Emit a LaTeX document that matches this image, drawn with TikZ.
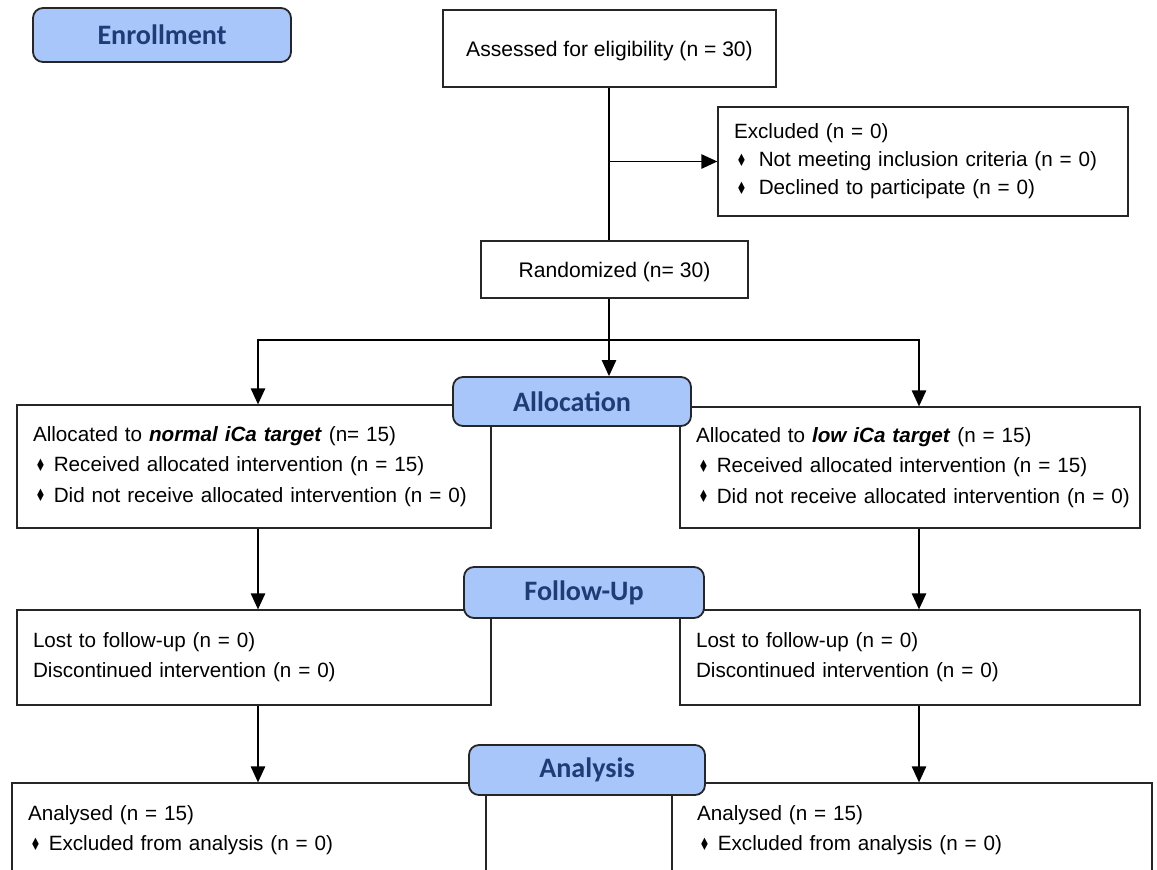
\documentclass[tikz,border=0pt]{standalone}
\usepackage{fontspec}
\setmainfont{Liberation Sans}
\newfontfamily\hdrfont{Carlito}
\newfontfamily\symfont{DejaVu Sans}
\usetikzlibrary{positioning,arrows.meta}
\definecolor{hdrfill}{RGB}{168,198,250}
\definecolor{hdrtext}{RGB}{31,60,118}
\newcommand{\dia}[1][0.2cm]{\hspace{0.06cm}{\symfont\fontsize{11}{11}\selectfont\raisebox{0.1ex}{\scalebox{0.75}[1.1]{♦}}}\hspace{#1}}

\begin{document}
\begin{tikzpicture}[on grid, font=\fontsize{15}{21}\selectfont]
    % Styles
    \tikzstyle{stage} = [rectangle, draw=black!85, line width=1.3pt, fill=hdrfill, rounded corners=0.25cm, minimum height=1.25cm, font=\hdrfont\bfseries\fontsize{20}{24}\selectfont, text=hdrtext]
    \tikzstyle{box} = [rectangle, draw=black!85, line width=0.9pt, fill=white, inner xsep=0.4cm, align=left, font=\fontsize{14.7}{21.5}\selectfont]
    \tikzstyle{cbox} = [rectangle, draw=black!85, line width=0.9pt, fill=white, align=center, text height=12pt, text depth=0pt]
    \tikzstyle{arrow} = [line width=1pt, -{Triangle[length=0.4cm, width=0.36cm]}]
    \tikzstyle{link} = [line width=1pt]

    % Frame
    \useasboundingbox (0,0) rectangle (28.925,-21.725);
    \clip (0,0) rectangle (28.925,-21.725);

    % Nodes
    \node [cbox, minimum width=8.325cm, minimum height=1.925cm] (assess) at (15.2375,-1.2125) {Assessed for eligibility (n = 30)};
    \node [box, below right=2.825cm and 7.8375cm of assess, text width=9.45cm, minimum height=2.725cm, font=\fontsize{14.7}{20}\selectfont] (excl) {Excluded (n = 0)\\ \dia[0.3cm]Not meeting inclusion criteria (n = 0)\\ \dia[0.3cm]Declined to participate (n = 0)};
    \node [cbox, below right=5.525cm and 0.125cm of assess, minimum width=6.675cm, minimum height=1.425cm] (rand) {Randomized (n= 30)};

    \node [box, below left=4.925cm and 9.0125cm of rand, text width=11.05cm, minimum height=3.075cm] (allocL) {Allocated to \textbf{\textit{normal iCa target}} (n= 15)\\ \dia Received allocated intervention (n = 15)\\ \dia Did not receive allocated intervention (n = 0)};
    \node [box, below right=4.95cm and 7.3875cm of rand, text width=10.7cm, minimum height=3.025cm] (allocR) {Allocated to \textbf{\textit{low iCa target}} (n = 15)\\ \dia Received allocated intervention (n = 15)\\ \mbox{\dia Did not receive allocated intervention (n = 0)}};

    \node [box, below=4.775cm of allocL, text width=11.05cm, minimum height=2.375cm] (followL) {Lost to follow-up (n = 0)\\ Discontinued intervention (n = 0)};
    \node [box, below=4.75cm of allocR, text width=10.7cm, minimum height=2.375cm] (followR) {Lost to follow-up (n = 0)\\ Discontinued intervention (n = 0)};

    \node [box, below left=4.325cm and 0.125cm of followL, text width=11.05cm, minimum height=2.375cm] (analysisL) {Analysed (n = 15)\\ \dia Excluded from analysis (n = 0)};
    \node [box, below right=4.325cm and 0.05cm of followR, inner xsep=0.625cm, text width=10.75cm, minimum height=2.375cm] (analysisR) {Analysed (n = 15)\\ \dia Excluded from analysis (n = 0)};

    % Stage headers
    \node [stage, above left=0.3375cm and 11.1875cm of assess, minimum width=6.45cm, minimum height=1.35cm] (enroll) {Enrollment};
    \node [stage, below left=3.3cm and 1.0625cm of rand, minimum width=5.95cm, minimum height=1.225cm] (allocH) {Allocation};
    \node [stage, below right=4.775cm and 0.3cm of allocH, minimum width=6cm, minimum height=1.275cm] (followH) {Follow-Up};
    \node [stage, below right=4.4375cm and 0.075cm of followH, minimum width=5.9cm, minimum height=1.25cm] (analysisH) {Analysis};

    % Arrows
    \coordinate (split) at (15.225,-8.5);
    \coordinate (colL) at (6.45,0);
    \coordinate (colR) at (22.975,0);
    \draw [link] (assess.south -| split) -- (rand.north -| split);
    \draw [arrow] (split |- excl) -- (excl);
    \draw [link] (rand.south -| split) -- (split);
    \draw [arrow] (split) -- (allocH.north -| split);
    \draw [arrow] (split) -| (colL |- allocL.north);
    \draw [arrow] (split) -| (colR |- allocR.north);
    \draw [arrow] (colL |- allocL.south) -- (colL |- followL.north);
    \draw [arrow] (colR |- allocR.south) -- (colR |- followR.north);
    \draw [arrow] (colL |- followL.south) -- (colL |- analysisL.north);
    \draw [arrow] (colR |- followR.south) -- (colR |- analysisR.north);
\end{tikzpicture}
\end{document}
